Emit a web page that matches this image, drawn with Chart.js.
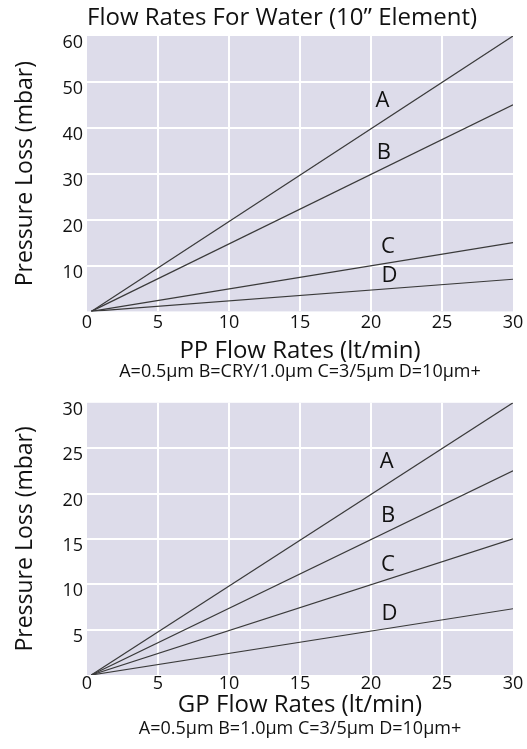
<!DOCTYPE html>
<html>
<head>
<meta charset="utf-8">
<script src="https://cdn.jsdelivr.net/npm/chart.js@4"></script>
<style>
  body { margin: 0; background: #fff; }
  .wrap { position: relative; width: 527px; }
  .js-pp { height: 388px; }
  .js-gp { height: 361px; }
</style>
</head>
<body>
<div class="wrap js-pp"><canvas id="ppChart"></canvas></div>
<div class="wrap js-gp"><canvas id="gpChart"></canvas></div>
<script>
// flow rate (lt/min) at start and end of each line
const flowX = [0.3, 30];

// PP elements - pressure loss (mbar)
const ppA = [0, 60];
const ppB = [0, 45];
const ppC = [0, 15];
const ppD = [0, 7];

// GP elements - pressure loss (mbar)
const gpA = [0, 30];
const gpB = [0, 22.5];
const gpC = [0, 15];
const gpD = [0, 7.3];

const seriesNames = ["A", "B", "C", "D"];

// where the letters sit (data coords)
const ppLabelX = [20.8, 20.9, 21.2, 21.3];
const ppLabelY = [46, 34.5, 14, 7.8];
const gpLabelX = [21.1, 21.2, 21.2, 21.3];
const gpLabelY = [23.5, 17.5, 12.1, 6.8];

const xTicks = [0, 5, 10, 15, 20, 25, 30];

const FONT = "'Open Sans', 'DejaVu Sans', sans-serif";

const plotBg = {
  id: "plotBg",
  beforeDraw(chart) {
    const { ctx, chartArea: a } = chart;
    ctx.save();
    ctx.fillStyle = "#dddcea";
    ctx.fillRect(a.left, a.top, a.right - a.left, a.bottom - a.top);
    ctx.restore();
  }
};

const letters = {
  id: "letters",
  afterDatasetsDraw(chart, args, opts) {
    const { ctx, scales } = chart;
    ctx.save();
    ctx.font = "22px " + FONT;
    ctx.fillStyle = "#111";
    ctx.textAlign = "center";
    ctx.textBaseline = "middle";
    for (let i = 0; i < opts.names.length; i++) {
      ctx.fillText(opts.names[i], scales.x.getPixelForValue(opts.xs[i]), scales.y.getPixelForValue(opts.ys[i]));
    }
    ctx.restore();
  }
};

const makeSet = function (values) {
  return {
    data: values.map((v, i) => ({ x: flowX[i], y: v })),
    borderColor: "#3a3a3a",
    borderWidth: 1.2,
    pointRadius: 0,
    fill: false
  };
};

const edgeGrid = function (min, max) {
  return function (c) {
    const v = c.tick ? c.tick.value : null;
    return (v === min || v === max) ? "rgba(0,0,0,0)" : "#ffffff";
  };
};

// sp = spacing under the plot: tick padding, tick line height, title padding, legend padding
const drawChart = function (id, series, yMax, yStep, xTitle, legendText, mainTitle, lx, ly, padTop, sp) {
  const config = {
    type: "line",
    data: { datasets: series.map(makeSet) },
    options: {
      responsive: true,
      maintainAspectRatio: false,
      animation: false,
      layout: { padding: { left: 10, right: 14, top: padTop, bottom: 0 } },
      scales: {
        x: {
          type: "linear",
          min: 0,
          max: 30,
          afterBuildTicks: (s) => { s.ticks = xTicks.map(v => ({ value: v })); },
          grid: { color: edgeGrid(0, 30), lineWidth: 2, drawTicks: false },
          border: { display: false },
          ticks: { color: "#111", font: { size: 18, family: FONT, lineHeight: sp.tickLh }, padding: sp.tickPad, maxRotation: 0 },
          title: { display: true, text: xTitle, color: "#111", font: { size: 24, family: FONT, lineHeight: 1 }, padding: { top: sp.titleTop, bottom: 0 } }
        },
        y: {
          min: 0,
          max: yMax,
          afterFit: (s) => { s.width = 77; },
          grid: { color: edgeGrid(0, yMax), lineWidth: 2, drawTicks: false },
          border: { display: false },
          ticks: {
            stepSize: yStep,
            color: "#111",
            font: { size: 18, family: FONT },
            padding: 4,
            labelOffset: 7,
            callback: (v) => v === 0 ? "" : v
          },
          title: { display: true, text: "Pressure Loss (mbar)", color: "#111", font: { size: 23, family: FONT, lineHeight: 1 }, padding: { top: 4, bottom: 4 } }
        }
      },
      plugins: {
        legend: { display: false },
        tooltip: { enabled: false },
        title: {
          display: !!mainTitle,
          text: mainTitle,
          fullSize: false,
          align: "start",
          color: "#111",
          font: { size: 24, weight: "normal", family: FONT, lineHeight: 1 },
          padding: { top: 6, bottom: 6 }
        },
        subtitle: {
          display: true,
          text: legendText,
          position: "bottom",
          fullSize: false,
          color: "#111",
          font: { size: 18, family: FONT, lineHeight: 1 },
          padding: { top: sp.legTop, bottom: sp.legBottom }
        },
        letters: { names: seriesNames, xs: lx, ys: ly }
      }
    },
    plugins: [plotBg, letters]
  };
  return new Chart(document.getElementById(id).getContext("2d"), config);
};

document.addEventListener("DOMContentLoaded", function () {
  drawChart("ppChart", [ppA, ppB, ppC, ppD], 60, 10, "PP Flow Rates (lt/min)",
    "A=0.5µm B=CRY/1.0µm C=3/5µm D=10µm+", "Flow Rates For Water (10” Element)", ppLabelX, ppLabelY, 0,
    { tickPad: 1, tickLh: 1.2, titleTop: 4, legTop: 0, legBottom: 7 });
  drawChart("gpChart", [gpA, gpB, gpC, gpD], 30, 5, "GP Flow Rates (lt/min)",
    "A=0.5µm B=1.0µm C=3/5µm D=10µm+", "", gpLabelX, gpLabelY, 3,
    { tickPad: 0, tickLh: 1, titleTop: 0, legTop: 3, legBottom: 11 });
});
</script>
</body>
</html>
